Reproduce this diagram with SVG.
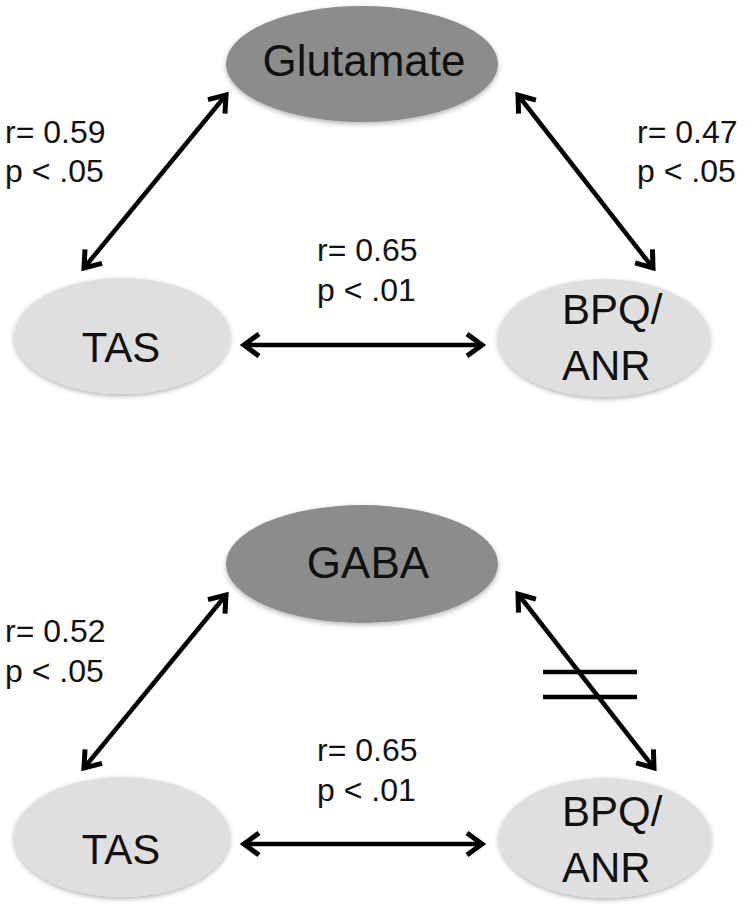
<svg xmlns="http://www.w3.org/2000/svg" width="750" height="913" viewBox="0 0 750 913">
<style>
.node text{font-family:"Liberation Sans",Arial,sans-serif;font-size:42px;fill:#111;}
.lbl{font-family:"Liberation Sans",Arial,sans-serif;font-size:32px;fill:#111;}
.dark{fill:#8c8c8c;}
.light{fill:#dfdfdf;}
.conn line{stroke:#000;stroke-width:4.5;fill:none;}
</style>
<defs>
<filter id="sh" x="-10%" y="-10%" width="120%" height="130%">
<feDropShadow dx="0" dy="2" stdDeviation="2.5" flood-color="#000" flood-opacity="0.3"/>
</filter>
<marker id="ah" markerUnits="userSpaceOnUse" markerWidth="34" markerHeight="34" viewBox="-22 -17 34 34" refX="0" refY="0" orient="auto-start-reverse">
<path d="M-15,-11 L0,0 L-15,11" fill="none" stroke="#000" stroke-width="5" stroke-linejoin="miter"/>
</marker>
</defs>
<rect width="750" height="913" fill="#fff"/>

<g id="glutamate" class="node">
<ellipse class="dark" cx="362" cy="64" rx="136" ry="58" filter="url(#sh)"/>
<text x="364" y="76" text-anchor="middle" style="font-size:44px">Glutamate</text>
</g>
<g id="tas1" class="node">
<ellipse class="light" cx="122" cy="336" rx="108" ry="58" filter="url(#sh)"/>
<text x="121" y="362" text-anchor="middle">TAS</text>
</g>
<g id="bpq1" class="node">
<ellipse class="light" cx="604" cy="338" rx="106" ry="59" filter="url(#sh)"/>
<text x="562" y="324">BPQ/</text>
<text x="562" y="380">ANR</text>
</g>

<g id="gaba" class="node">
<ellipse class="dark" cx="362" cy="564" rx="136" ry="59" filter="url(#sh)"/>
<text x="368" y="578" text-anchor="middle" style="font-size:44px">GABA</text>
</g>
<g id="tas2" class="node">
<ellipse class="light" cx="122" cy="837" rx="108" ry="60" filter="url(#sh)"/>
<text x="121" y="864" text-anchor="middle">TAS</text>
</g>
<g id="bpq2" class="node">
<ellipse class="light" cx="605" cy="838" rx="106" ry="60" filter="url(#sh)"/>
<text x="562" y="826">BPQ/</text>
<text x="562" y="882">ANR</text>
</g>

<g id="connectors" class="conn">
<line x1="226" y1="95" x2="84" y2="268" marker-start="url(#ah)" marker-end="url(#ah)"/>
<line x1="518" y1="95" x2="653" y2="268" marker-start="url(#ah)" marker-end="url(#ah)"/>
<line x1="244" y1="345" x2="482" y2="345" marker-start="url(#ah)" marker-end="url(#ah)"/>
<line x1="226" y1="595" x2="84" y2="768" marker-start="url(#ah)" marker-end="url(#ah)"/>
<line x1="518" y1="594" x2="654" y2="768" marker-start="url(#ah)" marker-end="url(#ah)"/>
<line x1="244" y1="844" x2="482" y2="844" marker-start="url(#ah)" marker-end="url(#ah)"/>
<line x1="543" y1="672" x2="637" y2="672"/>
<line x1="543" y1="697" x2="637" y2="697"/>
</g>

<g id="labels">
<text class="lbl" x="5" y="143">r= 0.59</text>
<text class="lbl" x="5" y="182">p &lt; .05</text>
<text class="lbl" x="637" y="143">r= 0.47</text>
<text class="lbl" x="637" y="182">p &lt; .05</text>
<text class="lbl" x="317" y="261">r= 0.65</text>
<text class="lbl" x="317" y="301">p &lt; .01</text>
<text class="lbl" x="5" y="642">r= 0.52</text>
<text class="lbl" x="5" y="682">p &lt; .05</text>
<text class="lbl" x="317" y="761">r= 0.65</text>
<text class="lbl" x="317" y="801">p &lt; .01</text>
</g>
</svg>
